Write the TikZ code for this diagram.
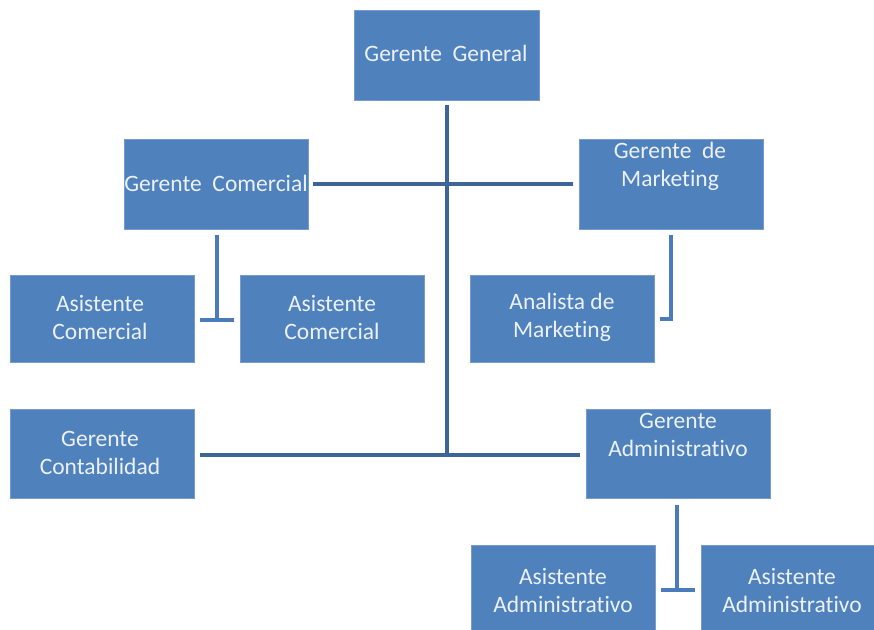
\documentclass[tikz,border=0pt]{standalone}
\usepackage{fontspec}
\setmainfont{Carlito}[Ligatures={NoCommon,NoContextual}]
\begin{document}
\begin{tikzpicture}[x=1pt,y=-1pt,
  box/.style={draw={rgb,255:red,120;green,155;blue,205},line width=0.6pt,fill={rgb,255:red,79;green,129;blue,189},inner sep=0pt,anchor=north west},
  lbl/.style={text={rgb,255:red,236;green,241;blue,248},font=\fontsize{23.5}{28}\selectfont,align=center,inner sep=0pt},
  trunk/.style={draw={rgb,255:red,61;green,101;blue,152},line width=4pt},
  sub/.style={draw={rgb,255:red,74;green,124;blue,186},line width=3.5pt}]
\useasboundingbox (0,0) rectangle (874,629);
% boxes
\node[box,minimum width=185pt,minimum height=90pt] (gg) at (354,10) {};
\node[box,minimum width=184pt,minimum height=90pt] (gc) at (124,139) {};
\node[box,minimum width=184pt,minimum height=90pt] (gm) at (579,139) {};
\node[box,minimum width=184pt,minimum height=87pt] (ac1) at (10,275) {};
\node[box,minimum width=184pt,minimum height=87pt] (ac2) at (240,275) {};
\node[box,minimum width=184pt,minimum height=87pt] (am) at (470,275) {};
\node[box,minimum width=184pt,minimum height=89pt] (gco) at (10,409) {};
\node[box,minimum width=184pt,minimum height=89pt] (ga) at (586,409) {};
\node[box,minimum width=184pt,minimum height=90pt] (aa1) at (471,545) {};
\node[box,minimum width=184pt,minimum height=90pt] (aa2) at (701,545) {};
% labels
\node[lbl] (tgg) at (446,53) {Gerente\ \ General};
\node[lbl] (tgc) at (216,183) {Gerente\ \ Comercial};
\node[lbl] (tgm) at (670,166) {Gerente\ \ de\\Marketing};
\node[lbl] (tac1) at (100,317) {Asistente\\Comercial};
\node[lbl] (tac2) at (332,317) {Asistente\\Comercial};
\node[lbl] (tam) at (562,317) {Analista de\\Marketing};
\node[lbl] (tgco) at (100,453) {Gerente\\Contabilidad};
\node[lbl] (tga) at (678,435) {Gerente\\Administrativo};
\node[lbl] (taa1) at (563,590) {Asistente\\Administrativo};
\node[lbl] (taa2) at (792,590) {Asistente\\Administrativo};
% connector points
\coordinate (t1) at (447,105);
\coordinate (t2) at (447,455);
\coordinate (h1) at (313,184);
\coordinate (h2) at (573,184);
\coordinate (h3) at (200,455);
\coordinate (h4) at (580,455);
\coordinate (c1) at (217,235);
\coordinate (c2) at (217,320);
\coordinate (c3) at (200,320);
\coordinate (c4) at (234,320);
\coordinate (m1) at (671,235);
\coordinate (m2) at (671,319);
\coordinate (m3) at (660,319);
\coordinate (a1) at (677,505);
\coordinate (a2) at (677,590);
\coordinate (a3) at (661,590);
\coordinate (a4) at (695,590);
% lines
\draw[trunk] (t1) -- (t2);
\draw[trunk] (h1) -- (h2);
\draw[trunk] (h3) -- (h4);
\draw[sub] (c1) -- (c2);
\draw[sub] (c3) -- (c4);
\draw[sub,line join=miter] (m1) -- (m2) -- (m3);
\draw[sub] (a1) -- (a2);
\draw[sub] (a3) -- (a4);
\end{tikzpicture}
\end{document}
